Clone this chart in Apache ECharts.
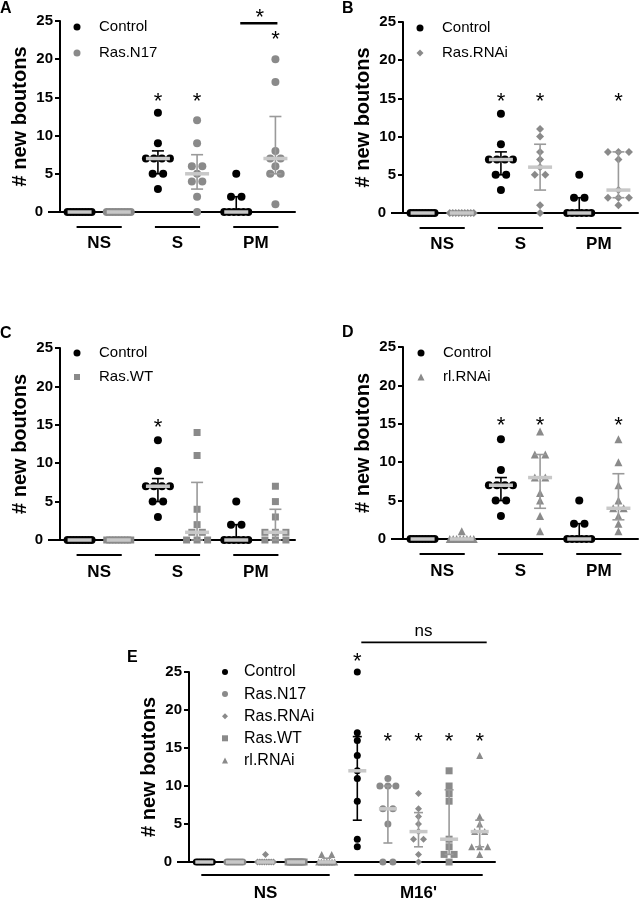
<!DOCTYPE html>
<html><head><meta charset="utf-8">
<script src="https://cdn.jsdelivr.net/npm/echarts@6/dist/echarts.min.js"></script>
<style>html,body{margin:0;padding:0;background:#fff}#c{width:642px;height:900px}</style>
</head><body><div id="c"></div>
<script>
// ================= DATA =================
const groupLabelsABCD = ['NS', 'S', 'PM'];
const groupLabelsE = ['NS', "M16'"];
const yTicks = [0, 5, 10, 15, 20, 25];

// Control (shared by panels A-D)
const controlNS = [0, 0, 0, 0, 0, 0, 0, 0, 0];
const controlS  = [13, 9, 7, 7, 7, 7, 5, 5, 3];
const controlPM = [5, 2, 2, 0, 0, 0, 0, 0, 0];

// Panel A: Ras.N17
const rasN17NS = [0, 0, 0, 0, 0, 0, 0, 0, 0];
const rasN17S  = [12, 9, 6, 6, 5, 4, 4, 2, 0];
const rasN17PM = [20, 17, 8, 7, 7, 6, 5, 5, 1];

// Panel B: Ras.RNAi
const rasRNAiNS = [0, 0, 0, 0, 0, 0, 0, 0, 0];
const rasRNAiS  = [11, 10, 8, 7, 6, 5, 5, 1, 0];
const rasRNAiPM = [8, 8, 8, 7, 3, 2, 2, 2, 1];

// Panel C: Ras.WT
const rasWTNS = [0, 0, 0, 0, 0, 0, 0, 0, 0];
const rasWTS  = [14, 11, 4, 2, 1, 1, 0, 0, 0];
const rasWTPM = [7, 5, 3, 1, 1, 1, 0, 0, 0];

// Panel D: rl.RNAi
const rlRNAiNS = [1, 0, 0, 0, 0, 0, 0, 0, 0];
const rlRNAiS  = [14, 11, 11, 8, 8, 6, 5, 3, 1];
const rlRNAiPM = [13, 10, 7, 5, 4, 4, 3, 2, 1];

// Panel E
const eControlNS   = [0, 0, 0, 0, 0, 0, 0, 0, 0];
const eControlM16  = [25, 17, 16, 14, 12, 11, 8, 3, 2];
const eRasN17NS    = [0, 0, 0, 0, 0, 0, 0, 0, 0];
const eRasN17M16   = [11, 10, 10, 10, 7, 7, 5, 0, 0];
const eRasRNAiNS   = [1, 0, 0, 0, 0, 0, 0, 0, 0];
const eRasRNAiM16  = [9, 7, 6, 5, 4, 3, 3, 1, 0];
const eRasWTNS     = [0, 0, 0, 0, 0, 0, 0, 0, 0];
const eRasWTM16    = [12, 10, 9, 8, 3, 2, 1, 1, 0];
const eRlRNAiNS    = [1, 1, 0, 0, 0, 0, 0, 0, 0];
const eRlRNAiM16   = [14, 6, 5, 4, 4, 2, 2, 2, 1];

// significance marks: [group, series] pairs carrying a star
const starsA = [['S', 'Control'], ['S', 'Ras.N17'], ['PM', 'Ras.N17']];
const starsB = [['S', 'Control'], ['S', 'Ras.RNAi'], ['PM', 'Ras.RNAi']];
const starsC = [['S', 'Control']];
const starsD = [['S', 'Control'], ['S', 'rl.RNAi'], ['PM', 'rl.RNAi']];
const starsE = [["M16'", 'Control'], ["M16'", 'Ras.N17'], ["M16'", 'Ras.RNAi'], ["M16'", 'Ras.WT'], ["M16'", 'rl.RNAi']];

// ================= STYLE / LAYOUT =================
const FONT = '"Liberation Sans", Arial, Helvetica, sans-serif';
const BLACK = '#000000';
const GRAY = '#8a8a8a';
const ERRGRAY = '#9a9a9a';
const MEDCOL = '#c8c8c8';

function quant(sorted, p) {
  const n = sorted.length;
  let r = (n + 1) * p;
  if (r <= 1) return sorted[0];
  if (r >= n) return sorted[n - 1];
  const lo = Math.floor(r), f = r - lo;
  return sorted[lo - 1] + f * (sorted[lo] - sorted[lo - 1]);
}
function stats(vals) {
  const s = vals.slice().sort((a, b) => a - b);
  return [quant(s, 0.5), quant(s, 0.25), quant(s, 0.75)];
}
function jitter(vals, spacing, maxHalf) {
  const counts = {}, seen = {};
  vals.forEach(v => counts[v] = (counts[v] || 0) + 1);
  return vals.map(v => {
    const k = counts[v];
    const i = (seen[v] = (seen[v] || 0) + 1) - 1;
    let sp = spacing;
    if (k > 1 && (k - 1) * sp / 2 > maxHalf) sp = 2 * maxHalf / (k - 1);
    return (i - (k - 1) / 2) * sp;
  });
}

const panels = [
  { letter: 'A', letterPos: [0, 1], grid: { left: 60, top: 21, width: 235, height: 191 }, groups: groupLabelsABCD,
    series: [
      { name: 'Control', color: BLACK, err: BLACK, symbol: 'circle', size: 8, lsize: 7, data: [controlNS, controlS, controlPM] },
      { name: 'Ras.N17', color: GRAY, err: ERRGRAY, symbol: 'circle', size: 8, lsize: 7, data: [rasN17NS, rasN17S, rasN17PM] }],
    legend: { cx: 77, cy: 27, textX: 99, step: 26, font: 15 },
    stars: starsA, starY: 15.1, starOverride: { 'PM|Ras.N17': 23.2 },
    bracket: { from: ['PM', 'Control'], to: ['PM', 'Ras.N17'], y: 24.7, text: '*', textY: 26.0 },
    ul: 15, lbl: 31, spacing: 10.5, maxHalf: 12, medHalf: 12, capHalf: 6, yFont: 15, nameFont: 20 },
  { letter: 'B', letterPos: [342, 1], grid: { left: 403, top: 22, width: 235, height: 191 }, groups: groupLabelsABCD,
    series: [
      { name: 'Control', color: BLACK, err: BLACK, symbol: 'circle', size: 8, lsize: 7, data: [controlNS, controlS, controlPM] },
      { name: 'Ras.RNAi', color: GRAY, err: ERRGRAY, symbol: 'diamond', size: 8, lsize: 7, data: [rasRNAiNS, rasRNAiS, rasRNAiPM] }],
    legend: { cx: 420, cy: 28, textX: 442, step: 25, font: 15 },
    stars: starsB, starY: 15.2, starOverride: {},
    ul: 15, lbl: 31, spacing: 10.5, maxHalf: 12, medHalf: 12, capHalf: 6, yFont: 15, nameFont: 20 },
  { letter: 'C', letterPos: [0, 326], grid: { left: 60, top: 348, width: 235, height: 192 }, groups: groupLabelsABCD,
    series: [
      { name: 'Control', color: BLACK, err: BLACK, symbol: 'circle', size: 8, lsize: 7, data: [controlNS, controlS, controlPM] },
      { name: 'Ras.WT', color: GRAY, err: ERRGRAY, symbol: 'rect', size: 7, lsize: 6, data: [rasWTNS, rasWTS, rasWTPM] }],
    legend: { cx: 77, cy: 353, textX: 99, step: 24, font: 15 },
    stars: starsC, starY: 15.3, starOverride: {},
    ul: 15, lbl: 32, spacing: 10.5, maxHalf: 12, medHalf: 12, capHalf: 6, yFont: 15, nameFont: 20 },
  { letter: 'D', letterPos: [342, 325], grid: { left: 403, top: 347, width: 235, height: 192 }, groups: groupLabelsABCD,
    series: [
      { name: 'Control', color: BLACK, err: BLACK, symbol: 'circle', size: 8, lsize: 7, data: [controlNS, controlS, controlPM] },
      { name: 'rl.RNAi', color: GRAY, err: ERRGRAY, symbol: 'triangle', size: 8, lsize: 7, data: [rlRNAiNS, rlRNAiS, rlRNAiPM] }],
    legend: { cx: 421, cy: 353, textX: 443, step: 24, font: 15 },
    stars: starsD, starY: 15.4, starOverride: {},
    ul: 15, lbl: 32, spacing: 10.5, maxHalf: 12, medHalf: 12, capHalf: 6, yFont: 15, nameFont: 20 },
  { letter: 'E', letterPos: [127, 650], grid: { left: 189, top: 672, width: 306, height: 190 }, groups: groupLabelsE,
    series: [
      { name: 'Control', color: BLACK, err: BLACK, symbol: 'circle', size: 7, lsize: 6, data: [eControlNS, eControlM16] },
      { name: 'Ras.N17', color: GRAY, err: ERRGRAY, symbol: 'circle', size: 7, lsize: 6, data: [eRasN17NS, eRasN17M16] },
      { name: 'Ras.RNAi', color: GRAY, err: ERRGRAY, symbol: 'diamond', size: 7, lsize: 6, data: [eRasRNAiNS, eRasRNAiM16] },
      { name: 'Ras.WT', color: GRAY, err: ERRGRAY, symbol: 'rect', size: 7, lsize: 6, data: [eRasWTNS, eRasWTM16] },
      { name: 'rl.RNAi', color: GRAY, err: ERRGRAY, symbol: 'triangle', size: 7, lsize: 6, data: [eRlRNAiNS, eRlRNAiM16] }],
    legend: { cx: 225, cy: 672, textX: 244, step: 22.1, font: 16 },
    stars: starsE, starY: 16.5, starOverride: { "M16'|Control": 27 },
    ns: { from: ["M16'", 'Control'], to: ["M16'", 'rl.RNAi'], y: 28.9, textY: 30.4, text: 'ns' },
    ul: 13, lbl: 31, spacing: 10, maxHalf: 8, medHalf: 9, capHalf: 4.5, yFont: 15, nameFont: 20 }
];

// ================= BUILD OPTION =================
const option = {
  animation: false,
  backgroundColor: '#ffffff',
  textStyle: { fontFamily: FONT },
  grid: [], xAxis: [], yAxis: [], series: [], legend: []
};

panels.forEach((p, pi) => {
  const ns = p.series.length;
  const cats = [];
  p.groups.forEach(g => p.series.forEach(s => cats.push(g + ' ' + s.name)));
  option.grid.push(Object.assign({ containLabel: false }, p.grid));
  option.xAxis.push({
    gridIndex: pi, type: 'category', data: cats, boundaryGap: true,
    axisLine: { lineStyle: { color: BLACK, width: 2 } },
    axisTick: { alignWithLabel: true, length: 5, lineStyle: { color: BLACK, width: 2 } },
    axisLabel: { show: false }, splitLine: { show: false }
  });
  option.yAxis.push({
    gridIndex: pi, type: 'value', min: yTicks[0], max: yTicks[yTicks.length - 1], interval: yTicks[1] - yTicks[0],
    axisLine: { show: true, lineStyle: { color: BLACK, width: 2 } },
    axisTick: { show: true, length: 5, lineStyle: { color: BLACK, width: 2 } },
    axisLabel: {
      color: BLACK, fontWeight: 'bold', fontSize: p.yFont, fontFamily: FONT, margin: 7,
      formatter: v => v === 0 ? '{z|0}' : String(v),
      rich: { z: { color: BLACK, fontWeight: 'bold', fontSize: p.yFont, fontFamily: FONT, padding: [0, 10, 0, 0] } }
    },
    splitLine: { show: false },
    name: '# new boutons', nameLocation: 'middle', nameGap: 28, nameRotate: 90,
    nameTextStyle: { color: BLACK, fontWeight: 'bold', fontSize: p.nameFont, fontFamily: FONT }
  });

  p.series.forEach((s, si) => {
    const pts = [];
    const st = [];
    s.data.forEach((vals, gi) => {
      const ci = gi * ns + si;
      const offs = jitter(vals, p.spacing, p.maxHalf);
      vals.forEach((v, k) => pts.push({ value: [ci, v], symbolOffset: [offs[k], 0] }));
      const [m, q1, q3] = stats(vals);
      st.push([ci, m, q1, q3]);
    });
    option.series.push({
      name: s.name, type: 'scatter', xAxisIndex: pi, yAxisIndex: pi,
      symbol: s.symbol, symbolSize: s.size, itemStyle: { color: s.color, opacity: 1 },
      data: pts, z: 3, clip: false, silent: true
    });
    option.series.push({
      name: p.letter + '-stats-' + s.name, type: 'custom', xAxisIndex: pi, yAxisIndex: pi, z: 4,
      silent: true, clip: false,
      data: st,
      renderItem: (params, api) => {
        const x = api.value(0);
        const pm = api.coord([x, api.value(1)]);
        const p1 = api.coord([x, api.value(2)]);
        const p3 = api.coord([x, api.value(3)]);
        const cx = pm[0];
        const els = [];
        const es = { stroke: s.err, lineWidth: 1.6 };
        els.push({ type: 'line', shape: { x1: cx, y1: p1[1], x2: cx, y2: p3[1] }, style: es });
        els.push({ type: 'line', shape: { x1: cx - p.capHalf, y1: p1[1], x2: cx + p.capHalf, y2: p1[1] }, style: es });
        els.push({ type: 'line', shape: { x1: cx - p.capHalf, y1: p3[1], x2: cx + p.capHalf, y2: p3[1] }, style: es });
        els.push({ type: 'line', shape: { x1: cx - p.medHalf, y1: pm[1], x2: cx + p.medHalf, y2: pm[1] }, style: { stroke: MEDCOL, lineWidth: 3.5 } });
        return { type: 'group', children: els };
      }
    });
  });

  // one legend per panel; icons keep their own small size, text shifted by padding
  const L = p.legend;
  p.series.forEach((s, si) => {
    option.legend.push({
      orient: 'vertical', left: L.cx - s.lsize / 2, top: L.cy + si * L.step - L.step / 2, padding: 0,
      itemWidth: s.lsize, itemHeight: s.lsize, itemGap: 0, selectedMode: false,
      textStyle: { color: BLACK, fontSize: L.font, fontFamily: FONT, height: L.step, lineHeight: L.step,
                   padding: [0, 0, 0, L.textX - L.cx - s.lsize / 2 - 5] },
      data: [{ name: s.name, icon: s.symbol, itemStyle: { color: s.color } }]
    });
  });
});

const chart = echarts.init(document.getElementById('c'), null, { renderer: 'canvas' });
chart.setOption(option);

// ================= ANNOTATIONS (computed through the axes) =================
const gfx = [];
const txt = (x, y, text, size, weight, align, valign) => ({
  type: 'text', x: x, y: y, silent: true,
  style: { text: text, fill: BLACK, fontSize: size, fontWeight: weight, fontFamily: FONT, align: align, verticalAlign: valign }
});
const STAR_SHIFT = 5;
panels.forEach((p, pi) => {
  const ns = p.series.length;
  const ci = (g, s) => p.groups.indexOf(g) * ns + p.series.findIndex(q => q.name === s);
  const toPx = (c, v) => chart.convertToPixel({ gridIndex: pi }, [c, v]);
  const y0 = toPx(0, 0);
  // x-axis extension to the left at 0
  gfx.push({ type: 'line', silent: true, shape: { x1: p.grid.left - 12, y1: y0[1], x2: p.grid.left, y2: y0[1] }, style: { stroke: BLACK, lineWidth: 2 } });
  // group underlines + labels
  p.groups.forEach((g, gi) => {
    const a = toPx(gi * ns, 0), b = toPx(gi * ns + ns - 1, 0);
    gfx.push({ type: 'line', silent: true, shape: { x1: a[0] - 3, y1: a[1] + p.ul, x2: b[0] + 3, y2: a[1] + p.ul }, style: { stroke: BLACK, lineWidth: 2 } });
    gfx.push(txt((a[0] + b[0]) / 2, a[1] + p.lbl, g, 17, 'bold', 'center', 'middle'));
  });
  // stars
  p.stars.forEach(([g, s]) => {
    const key = g + '|' + s;
    const yv = p.starOverride[key] !== undefined ? p.starOverride[key] : p.starY;
    const pt = toPx(ci(g, s), yv);
    gfx.push(txt(pt[0], pt[1] + STAR_SHIFT, '*', 22, 'normal', 'center', 'middle'));
  });
  if (p.bracket) {
    const a = toPx(ci(...p.bracket.from), p.bracket.y), b = toPx(ci(...p.bracket.to), p.bracket.y);
    gfx.push({ type: 'line', silent: true, shape: { x1: a[0] + 4, y1: a[1], x2: b[0] + 2, y2: a[1] }, style: { stroke: BLACK, lineWidth: 2.5 } });
    const t = toPx(ci(...p.bracket.to), p.bracket.textY);
    gfx.push(txt((a[0] + b[0]) / 2 + 4, t[1] + STAR_SHIFT, p.bracket.text, 22, 'normal', 'center', 'middle'));
  }
  if (p.ns) {
    const a = toPx(ci(...p.ns.from), p.ns.y), b = toPx(ci(...p.ns.to), p.ns.y);
    gfx.push({ type: 'line', silent: true, shape: { x1: a[0] + 4, y1: a[1], x2: b[0] + 7, y2: a[1] }, style: { stroke: BLACK, lineWidth: 1.8 } });
    const t = toPx(ci(...p.ns.to), p.ns.textY);
    gfx.push(txt((a[0] + b[0]) / 2 + 5, t[1], p.ns.text, 17, 'normal', 'center', 'middle'));
  }
  // panel letter
  gfx.push(txt(p.letterPos[0], p.letterPos[1], p.letter, 16, 'bold', 'left', 'top'));
});
chart.setOption({ graphic: gfx });
</script>
</body></html>
